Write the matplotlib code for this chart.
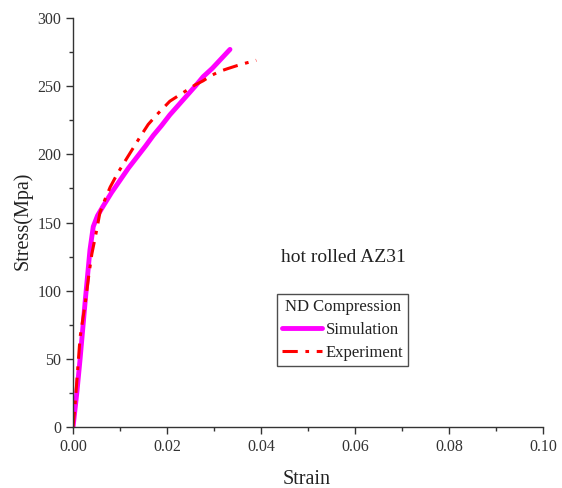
import matplotlib
matplotlib.use("Agg")
import matplotlib.pyplot as plt
from matplotlib.ticker import MultipleLocator, FormatStrFormatter

plt.rcParams['font.family'] = ['Liberation Serif', 'DejaVu Serif']

# Simulated flow curve (strain, stress in MPa)
sim_strain = [0, 0.0008, 0.0015, 0.0026, 0.0036, 0.0043, 0.0052, 0.0064, 0.0082,
              0.0100, 0.0118, 0.0136, 0.0154, 0.0171, 0.0188, 0.0206, 0.0224,
              0.0242, 0.0260, 0.0277, 0.0296, 0.0315, 0.0334]
sim_stress = [0, 25, 50, 93, 130, 147, 155, 162, 172,
              181, 190, 198, 206, 214, 221, 229, 236,
              243, 250, 257, 263, 270, 277]

# Measured flow curve
exp_strain = [0, 0.0004, 0.0015, 0.0026, 0.0033, 0.0040, 0.0050, 0.0057, 0.0068,
              0.0079, 0.0093, 0.0107, 0.0125, 0.0143, 0.0160, 0.0178, 0.0192,
              0.0206, 0.0224, 0.0242, 0.0260, 0.0277, 0.0295, 0.0313, 0.0330,
              0.0348, 0.0368, 0.0390]
exp_stress = [0, 15, 66, 91, 110, 127, 144, 157, 167,
              176, 185, 193, 203, 213, 222, 229, 234,
              239, 243, 247, 251, 254, 258, 261, 263,
              265, 267, 269]

x_ticks = [0.00, 0.02, 0.04, 0.06, 0.08, 0.10]
y_ticks = [0, 50, 100, 150, 200, 250, 300]

fig = plt.figure(figsize=(5.62, 4.88), dpi=100)
ax = fig.add_axes([0.130, 0.125, 0.836, 0.838])

ax.plot(sim_strain, sim_stress, color='#ff00ff', lw=3.5, solid_capstyle='round',
        solid_joinstyle='round', label='Simulation')
ax.plot(exp_strain, exp_stress, color='#ff0000', lw=2.2, ls=(0, (5, 2.5, 1.2, 2.5)),
        label='Experiment')

ax.set_xlim(0, 0.10)
ax.set_ylim(0, 300)
ax.set_xticks(x_ticks)
ax.set_yticks(y_ticks)
ax.xaxis.set_major_formatter(FormatStrFormatter('%.2f'))
ax.xaxis.set_minor_locator(MultipleLocator(0.01))
ax.yaxis.set_minor_locator(MultipleLocator(25))

for s in ('top', 'right'):
    ax.spines[s].set_visible(False)
for s in ('left', 'bottom'):
    ax.spines[s].set_color('#333333')
    ax.spines[s].set_linewidth(1.0)

ax.tick_params(which='major', direction='out', length=5, width=1, colors='#333333',
               labelsize=11.5, labelcolor='#333333')
ax.tick_params(which='minor', direction='out', length=3, width=1, colors='#333333')

ax.set_xlabel('Strain', fontsize=14.5, color='#222222')
ax.set_ylabel('Stress(Mpa)', fontsize=14.5, color='#222222')
ax.xaxis.set_label_coords(0.498, -0.104)
ax.yaxis.set_label_coords(-0.087, 0.505)

ax.text(0.0575, 124, 'hot rolled AZ31', fontsize=14, color='#222222',
        ha='center', va='center')

leg = ax.legend(title='ND Compression', loc='upper left',
                bbox_to_anchor=(0.435, 0.325), fontsize=12, title_fontsize=12,
                frameon=True, fancybox=False, edgecolor='#222222',
                handlelength=2.4, handletextpad=0.2, borderpad=0.3,
                labelspacing=0.42, borderaxespad=0)
leg.get_frame().set_linewidth(1.0)
for t in leg.get_texts():
    t.set_color('#222222')
leg.get_title().set_color('#222222')

fig.savefig('out.png', dpi=100)
